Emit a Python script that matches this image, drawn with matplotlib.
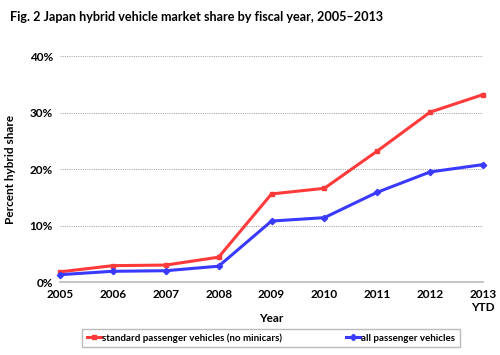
import matplotlib.pyplot as plt
from matplotlib.ticker import PercentFormatter

plt.rcParams['font.family'] = ['Lato', 'DejaVu Sans']

years = [2005, 2006, 2007, 2008, 2009, 2010, 2011, 2012, 2013]
year_labels = ['2005', '2006', '2007', '2008', '2009', '2010', '2011', '2012', '2013\nYTD']
standard = [1.8, 2.9, 3.0, 4.4, 15.6, 16.6, 23.2, 30.1, 33.2]
all_pass = [1.3, 1.9, 2.0, 2.8, 10.8, 11.4, 15.9, 19.5, 20.8]

fig = plt.figure(figsize=(5, 3.55), dpi=100)
ax = fig.add_axes([0.12, 0.2056, 0.846, 0.636])

ax.plot(years, standard, color='#ff3a3a', lw=2.2, marker='s', ms=3.5,
        label='standard passenger vehicles (no minicars)', clip_on=False, zorder=3)
ax.plot(years, all_pass, color='#3a3aff', lw=2.2, marker='D', ms=3.2,
        label='all passenger vehicles', clip_on=False, zorder=3)

ax.set_xlim(2005, 2013)
ax.set_ylim(0, 40)
ax.set_yticks([0, 10, 20, 30, 40])
ax.yaxis.set_major_formatter(PercentFormatter(decimals=0))
ax.set_xticks(years)
ax.set_xticklabels(year_labels)
ax.tick_params(length=0, labelsize=8.5, pad=5)
for lab in ax.get_xticklabels() + ax.get_yticklabels():
    lab.set_fontweight('bold')
ax.yaxis.grid(True, linestyle=(0, (1, 1)), color='#aaaaaa', lw=0.8)
for s in ['left', 'right', 'top']:
    ax.spines[s].set_visible(False)
ax.spines['bottom'].set_color('#bbbbbb')
ax.spines['bottom'].set_linewidth(1.2)

ax.set_xlabel('Year', fontsize=8.5, fontweight='bold', labelpad=0)
ax.set_ylabel('Percent hybrid share', fontsize=8.5, fontweight='bold', labelpad=10)

fig.text(0.02, 0.952, 'Fig. 2 Japan hybrid vehicle market share by fiscal year, 2005\u20132013',
         fontsize=9.1, fontweight='bold', va='center')

leg = fig.legend(loc='center', bbox_to_anchor=(0.542, 0.048), ncol=2,
                 frameon=True, fancybox=False, edgecolor='#aaaaaa', handlelength=1.5,
                 handletextpad=0.1, columnspacing=6.5, borderpad=0.45,
                 prop={'weight': 'bold', 'size': 7})
leg.get_frame().set_linewidth(1.0)

fig.savefig('out.png', dpi=100)
